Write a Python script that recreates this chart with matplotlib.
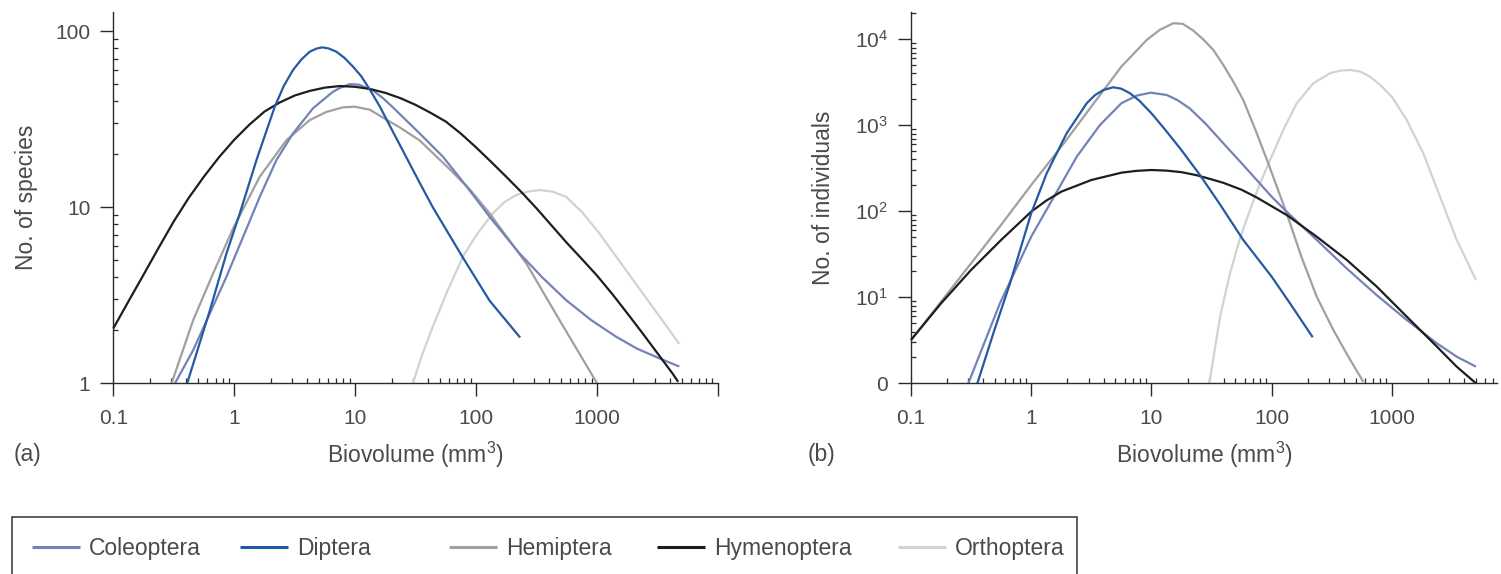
import matplotlib
matplotlib.use("Agg")
import matplotlib.pyplot as plt
from matplotlib.patches import Rectangle
from matplotlib.ticker import LogLocator, NullFormatter

plt.rcParams['font.family'] = ['Liberation Sans', 'DejaVu Sans']
plt.rcParams['mathtext.default'] = 'regular'

# ---------------- data ----------------
species = ['Coleoptera', 'Diptera', 'Hemiptera', 'Hymenoptera', 'Orthoptera']
colors = ['#7383b9', '#245aa3', '#a0a0a0', '#1e1e1e', '#d2d2d2']

# (a) number of species vs biovolume (mm^3)
coleo_a_x = [0.3236, 0.4581, 0.6295, 0.863, 1.186, 1.626, 2.234, 3.062, 4.487, 6.561, 7.586, 9.016, 10.72,
             14.03, 16.98, 20.51, 34.12, 53.09, 83.18, 129.1, 228.0, 354.8, 554.6, 891.3, 1436, 2138, 3266, 4786]
coleo_a_y = [1.0, 1.545, 2.50, 4.04, 6.81, 11.48, 18.58, 26.3, 36.6, 45.4, 47.9, 50.1, 49.8,
             46.2, 41.7, 37.0, 26.3, 19.41, 13.18, 8.85, 5.48, 3.98, 2.97, 2.29, 1.84, 1.574, 1.387, 1.245]

dipt_a_x = [0.408, 0.630, 0.863, 1.112, 1.528, 2.163, 2.570, 3.062, 3.589, 4.207, 4.786, 5.358, 6.026,
            6.998, 8.128, 9.594, 11.22, 13.18, 15.92, 20.51, 34.12, 43.85, 77.62, 129.1, 231.2]
dipt_a_y = [1.0, 2.606, 5.48, 9.25, 18.58, 37.3, 49.0, 60.3, 69.2, 76.6, 79.8, 81.1, 80.0,
            76.6, 70.8, 63.0, 55.6, 46.8, 37.6, 26.9, 13.8, 10.0, 5.19, 2.95, 1.82]

hemi_a_x = [0.3034, 0.4581, 0.6699, 0.9795, 1.626, 2.704, 4.207, 5.754, 7.925, 9.908, 13.18, 18.11,
            23.28, 34.12, 60.26, 89.13, 129.1, 259.4, 488.7, 1000]
hemi_a_y = [1.0, 2.29, 4.22, 7.60, 14.93, 24.1, 31.3, 34.8, 37.0, 37.3, 35.9, 31.5,
            28.5, 24.0, 16.5, 12.59, 9.25, 4.81, 2.29, 1.0]

hyme_a_x = [0.1, 0.1334, 0.1778, 0.2371, 0.3162, 0.4217, 0.5623, 0.7499, 1.0, 1.334, 1.778, 2.371,
            3.162, 4.217, 5.623, 7.499, 10.0, 13.34, 17.78, 23.71, 31.62, 42.17, 56.23, 74.99, 100.0,
            133.4, 177.8, 237.1, 316.2, 421.7, 562.3, 749.9, 1000, 1334, 1778, 2371, 3162, 4217, 4680]
hyme_a_y = [2.05, 2.92, 4.14, 5.89, 8.32, 11.35, 14.96, 19.3, 24.2, 29.5, 35.0, 39.4,
            43.2, 45.9, 47.9, 48.9, 48.4, 47.0, 44.7, 41.7, 38.2, 34.4, 30.7, 26.2, 21.9,
            18.1, 14.9, 12.2, 9.86, 7.87, 6.28, 5.08, 4.09, 3.22, 2.50, 1.93, 1.48, 1.135, 1.02]

orth_a_x = [29.99, 35.48, 43.85, 57.54, 77.62, 100.0, 137.4, 171.8, 214.3, 269.2, 334.2, 426.6, 554.6,
            758.6, 1045, 1968, 3266, 4786]
orth_a_y = [1.0, 1.43, 2.10, 3.31, 5.24, 6.92, 9.25, 10.72, 11.75, 12.30, 12.53, 12.30, 11.48,
            9.33, 7.11, 3.90, 2.41, 1.675]

# (b) number of individuals vs biovolume (mm^3)
coleo_b_x = [0.2999, 0.5495, 1.0, 1.578, 2.393, 3.733, 5.623, 7.551, 9.886, 13.43, 16.6, 20.94, 28.18,
             39.63, 58.08, 100.0, 133.4, 237.1, 420.7, 748.2, 1330, 2366, 3467, 5012]
coleo_b_y = [1.0, 8.51, 50.7, 154.9, 431.5, 1007, 1803, 2213, 2393, 2249, 1950, 1560, 1047,
             618, 345, 148, 98.9, 46.5, 21.7, 10.6, 5.45, 2.92, 2.04, 1.56]

dipt_b_x = [0.3565, 0.4842, 0.6668, 1.0, 1.346, 1.972, 2.897, 3.388, 3.981, 4.819, 5.623, 6.637,
            7.943, 10.0, 13.34, 17.74, 25.35, 37.24, 58.08, 100.0, 142.2, 219.8]
dipt_b_y = [1.0, 3.81, 14.55, 94.8, 276.7, 807, 1803, 2239, 2570, 2767, 2661, 2355,
            1928, 1380, 851, 516, 264, 120, 46.4, 17.4, 8.51, 3.43]

hemi_b_x = [0.1, 0.178, 0.316, 0.561, 1.0, 1.78, 3.16, 5.62, 9.141, 11.75, 15.21, 18.2, 22.34,
            26.92, 32.73, 39.63, 47.86, 58.08, 74.13, 93.76, 133.4, 177.8, 237.1, 326.3, 434.5, 579.4]
hemi_b_y = [3.19, 8.9, 24.8, 69.3, 202, 564, 1645, 4800, 9820, 12880, 15350, 15140, 12590,
            10000, 7520, 5020, 3236, 1970, 851, 361, 94.8, 29.0, 10.2, 4.17, 2.04, 1.04]

hyme_b_x = [0.1, 0.1778, 0.3162, 0.5623, 1.0, 1.334, 1.778, 3.162, 5.623, 7.499, 10.0, 13.34, 17.78,
            23.71, 31.62, 39.81, 56.23, 74.99, 133.4, 237.1, 421.7, 749.9, 1334, 2371, 3467, 5012]
hyme_b_y = [3.19, 8.5, 20.8, 46.4, 99, 133, 169, 231, 281, 295, 302, 297, 285,
            263, 235, 214, 178, 145, 90.6, 50.7, 27.2, 13.3, 5.94, 2.67, 1.56, 1.0]

orth_b_x = [30.34, 37.24, 45.08, 54.58, 66.07, 79.98, 97.05, 125.0, 161.8, 222.3, 306.2, 371.5,
            448.7, 543.3, 659.2, 812.8, 1000, 1330, 1828, 2518, 3467, 5012]
orth_b_y = [1.0, 5.94, 19.0, 48.5, 103.5, 209.9, 395.4, 881, 1803, 3076, 4027, 4315,
            4395, 4217, 3673, 2884, 2153, 1153, 472, 148, 46.5, 15.9]

xtick_vals = [0.1, 1, 10, 100, 1000]
xtick_labels = ['0.1', '1', '10', '100', '1000']
ytick_a_vals = [1, 10, 100]
ytick_a_labels = ['1', '10', '100']
ytick_b_vals = [1, 10, 100, 1000, 10000]
ytick_b_labels = ['0', '$10^{1}$', '$10^{2}$', '$10^{3}$', '$10^{4}$']

series_a = {'Coleoptera': (coleo_a_x, coleo_a_y), 'Diptera': (dipt_a_x, dipt_a_y),
            'Hemiptera': (hemi_a_x, hemi_a_y), 'Hymenoptera': (hyme_a_x, hyme_a_y),
            'Orthoptera': (orth_a_x, orth_a_y)}
series_b = {'Coleoptera': (coleo_b_x, coleo_b_y), 'Diptera': (dipt_b_x, dipt_b_y),
            'Hemiptera': (hemi_b_x, hemi_b_y), 'Hymenoptera': (hyme_b_x, hyme_b_y),
            'Orthoptera': (orth_b_x, orth_b_y)}

# ---------------- layout ----------------
W, H = 1501, 574
fig = plt.figure(figsize=(W / 100, H / 100), dpi=100)
TXT = '#4a4a4a'
SP = '#2a2a2a'


def rect(x0, x1, yb, yt):
    return [x0 / W, 1 - yb / H, (x1 - x0) / W, (yb - yt) / H]


axA = fig.add_axes(rect(113.3, 718, 383.3, 12))
axB = fig.add_axes(rect(911, 1497, 383.3, 12))

draw_order = ['Orthoptera', 'Hemiptera', 'Coleoptera', 'Hymenoptera', 'Diptera']
col = dict(zip(species, colors))
handles = {}
for ax, ser in ((axA, series_a), (axB, series_b)):
    for name in draw_order:
        xs, ys = ser[name]
        ln, = ax.plot(xs, ys, color=col[name], lw=1.6, solid_joinstyle='round',
                      solid_capstyle='butt', clip_on=False)
        handles[name] = ln

for ax in (axA, axB):
    ax.set_xscale('log')
    ax.set_yscale('log')
    for s in ('top', 'right'):
        ax.spines[s].set_visible(False)
    for s in ('left', 'bottom'):
        ax.spines[s].set_color(SP)
        ax.spines[s].set_linewidth(1.0)
    ax.tick_params(which='major', direction='out', length=9.5, width=1.0, color=SP,
                   labelsize=15, labelcolor=TXT, pad=7)
    ax.tick_params(axis='x', which='major', pad=9)
    ax.tick_params(which='minor', direction='in', length=3.5, width=0.9, color=SP)
    ax.xaxis.set_minor_locator(LogLocator(base=10, subs=range(2, 10), numticks=20))
    ax.yaxis.set_minor_locator(LogLocator(base=10, subs=range(2, 10), numticks=20))
    ax.xaxis.set_minor_formatter(NullFormatter())
    ax.yaxis.set_minor_formatter(NullFormatter())
    ax.set_xlabel('Biovolume (mm$^{3}$)', fontsize=16.5, color=TXT)
    ax.xaxis.set_label_coords(0.5, -(440 - 383.3) / (383.3 - 12))

axA.set_xlim(0.1, 1e4)
axA.set_ylim(1, 10 ** 2.11)
axA.set_xticks(xtick_vals + [10000])
axA.set_xticklabels(xtick_labels + [''])
axA.set_yticks(ytick_a_vals)
axA.set_yticklabels(ytick_a_labels)
axA.set_ylabel('No. of species', fontsize=16.5, color=TXT)
axA.yaxis.set_label_coords(-(113.3 - 38) / (718 - 113.3), 0.5)

axB.set_xlim(0.1, 7500)
axB.set_ylim(1, 10 ** 4.317)
axB.set_xticks(xtick_vals)
axB.set_xticklabels(xtick_labels)
axB.set_yticks(ytick_b_vals)
axB.set_yticklabels(ytick_b_labels)
axB.set_ylabel('No. of individuals', fontsize=16.5, color=TXT)
axB.yaxis.set_label_coords(-(911 - 835) / (1497 - 911), 0.5)

fig.text(14 / W, 1 - 454 / H, '(a)', fontsize=16.5, color=TXT, ha='left', va='center')
fig.text(808 / W, 1 - 454 / H, '(b)', fontsize=16.5, color=TXT, ha='left', va='center')

# ---------------- legend ----------------
fig.patches.append(Rectangle((12 / W, -0.2), (1077 - 12) / W, 0.2 + (1 - 517 / H),
                             transform=fig.transFigure, fill=False, ec='#333333', lw=1.1))
leg_x = [32, 240, 449, 657, 898]
for name, lx in zip(species, leg_x):
    lg = fig.legend(handles=[handles[name]], labels=[name], loc='center left',
                    bbox_to_anchor=(lx / W, 1 - 549 / H), frameon=False,
                    fontsize=16.5, handlelength=2.1, handletextpad=0.4,
                    borderpad=0, borderaxespad=0)
    for t in lg.get_texts():
        t.set_color(TXT)
    for l in lg.get_lines():
        l.set_linewidth(2.2)

fig.savefig('out.png', dpi=100)
